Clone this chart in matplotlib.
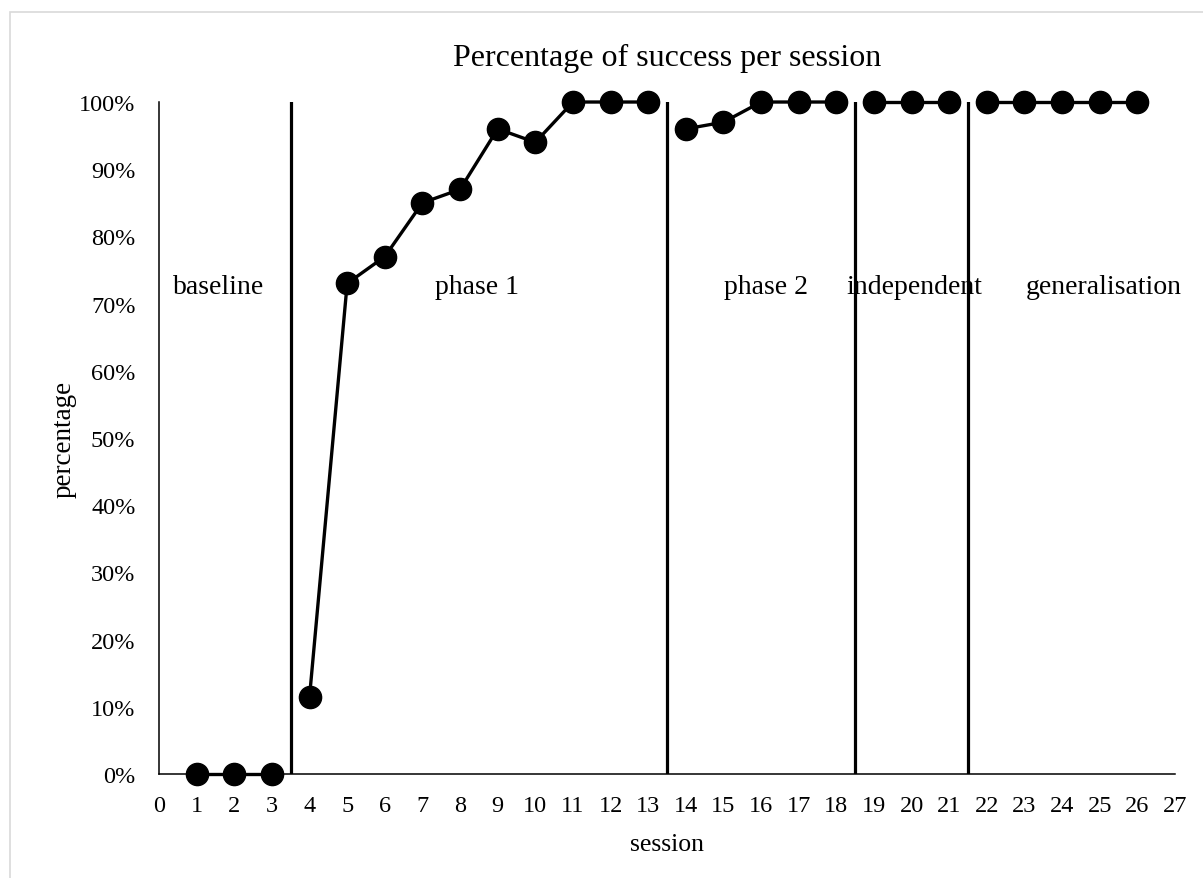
import numpy as np
from matplotlib import pyplot as plt
from matplotlib.patches import Rectangle

plt.rcParams['font.family'] = ['Liberation Serif', 'DejaVu Serif']

# sessions and success rate (%) per phase
baseline_x = [1, 2, 3]
baseline_y = [0, 0, 0]
phase1_x = [4, 5, 6, 7, 8, 9, 10, 11, 12, 13]
phase1_y = [11.5, 73, 77, 85, 87, 96, 94, 100, 100, 100]
phase2_x = [14, 15, 16, 17, 18]
phase2_y = [96, 97, 100, 100, 100]
indep_x = [19, 20, 21]
indep_y = [100, 100, 100]
gen_x = [22, 23, 24, 25, 26]
gen_y = [100, 100, 100, 100, 100]

phase_breaks = [3.5, 13.5, 18.5, 21.5]
phase_names = ["baseline", "phase 1", "phase 2", "independent", "generalisation"]
name_x = [1.57, 8.45, 16.13, 20.06, 25.1]

fig = plt.figure(figsize=(12.03, 8.79), dpi=100)
ax = fig.add_axes([0.1322, 0.1183, 0.9767 - 0.1322, 0.8828 - 0.1183])

# light frame round the chart
fig.patches.append(Rectangle((10/1203, -0.1), 1.2, 1 - 13/879 + 0.1, transform=fig.transFigure,
                             fill=False, edgecolor='#d9d9d9', linewidth=1.2))

for xs, ys in [(baseline_x, baseline_y), (phase1_x, phase1_y), (phase2_x, phase2_y),
               (indep_x, indep_y), (gen_x, gen_y)]:
    ax.plot(xs, ys, color='black', linewidth=2.4, marker='o', markersize=16, zorder=3, clip_on=False)

for b in phase_breaks:
    ax.plot([b, b], [0, 100], color='black', linewidth=2.3, zorder=2)

for nx, name in zip(name_x, phase_names):
    ax.text(nx, 72.5, name, ha='center', va='center', fontsize=20)

ax.set_xlim(0, 27)
ax.set_ylim(0, 100)
ax.set_xticks(np.arange(0, 28))
ax.set_yticks(np.arange(0, 101, 10))
ax.set_yticklabels([f"{v}%" for v in range(0, 101, 10)])
ax.tick_params(length=0, labelsize=17.5)
ax.tick_params(axis='y', pad=17)
ax.tick_params(axis='x', pad=15)
ax.spines['top'].set_visible(False)
ax.spines['right'].set_visible(False)
ax.spines['left'].set_linewidth(1.1)
ax.spines['bottom'].set_linewidth(1.1)

ax.set_xlabel("session", fontsize=18.5, labelpad=12)
ax.set_ylabel("percentage", fontsize=19.5, labelpad=2)
ax.set_title("Percentage of success per session", fontsize=23, pad=27)

fig.savefig("out.png", dpi=100)
